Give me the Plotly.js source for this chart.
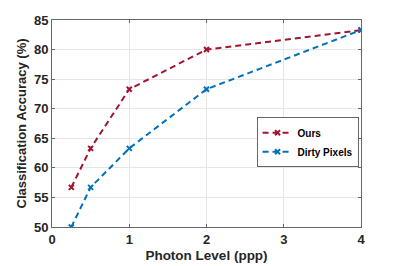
<!DOCTYPE html>
<html><head><meta charset="utf-8">
<script src="https://cdn.plot.ly/plotly-3.0.1.min.js"></script>
<style>html,body{margin:0;padding:0;background:#fff}#c{width:399px;height:266px}</style>
</head><body><div id="c"></div>
<script>
const photonLevels = [0.25, 0.5, 1, 2, 4];
const oursAcc = [56.7, 63.3, 73.3, 80.0, 83.3];
const dirtyAcc = [50.0, 56.7, 63.3, 73.3, 83.3];
const seriesNames = ["Ours", "Dirty Pixels"];
const xTicks = [0, 1, 2, 3, 4];
const yTicks = [50, 55, 60, 65, 70, 75, 80, 85];

const fam = "Liberation Sans, Arial, Helvetica, sans-serif";
const traces = [
  {x: photonLevels, y: oursAcc, name: seriesNames[0], mode: "lines+markers",
   line: {color: "#A2142F", width: 2, dash: "6px,4px"},
   marker: {symbol: "x-thin-open", size: 5, color: "#A2142F", line: {width: 2, color: "#A2142F"}}},
  {x: photonLevels, y: dirtyAcc, name: seriesNames[1], mode: "lines+markers",
   line: {color: "#0072BD", width: 2, dash: "6px,4px"},
   marker: {symbol: "x-thin-open", size: 5, color: "#0072BD", line: {width: 2, color: "#0072BD"}}}
];
const axBase = {
  showline: true, mirror: "ticks", linecolor: "#666", linewidth: 1,
  ticks: "inside", ticklen: 3, tickcolor: "#666",
  showgrid: true, gridcolor: "#e6e6e6", gridwidth: 1, zeroline: false,
  tickfont: {family: fam, size: 13, color: "#262626", weight: "bold"}
};
const layout = {
  width: 399, height: 266,
  margin: {l: 52, r: 38, t: 20, b: 39},
  paper_bgcolor: "#fff", plot_bgcolor: "#fff",
  xaxis: Object.assign({}, axBase, {
    range: [0, 4], tickvals: xTicks, ticktext: xTicks.map(String),
    title: {text: "Photon Level (ppp)", standoff: 4,
            font: {family: fam, size: 13.5, color: "#262626", weight: "bold"}}
  }),
  yaxis: Object.assign({}, axBase, {
    range: [50, 85], tickvals: yTicks, ticktext: yTicks.map(String),
    title: {text: "Classification Accuracy (%)", standoff: 4,
            font: {family: fam, size: 13, color: "#262626", weight: "bold"}}
  }),
  showlegend: true,
  legend: {x: 0.662, y: 0.53, xanchor: "left", yanchor: "top",
    bgcolor: "#fff", bordercolor: "#666", borderwidth: 1,
    font: {family: fam, size: 10, color: "#000", weight: "bold"},
    tracegroupgap: 0, itemwidth: 30}
};
Plotly.newPlot("c", traces, layout, {displayModeBar: false, staticPlot: true});
</script></body></html>
